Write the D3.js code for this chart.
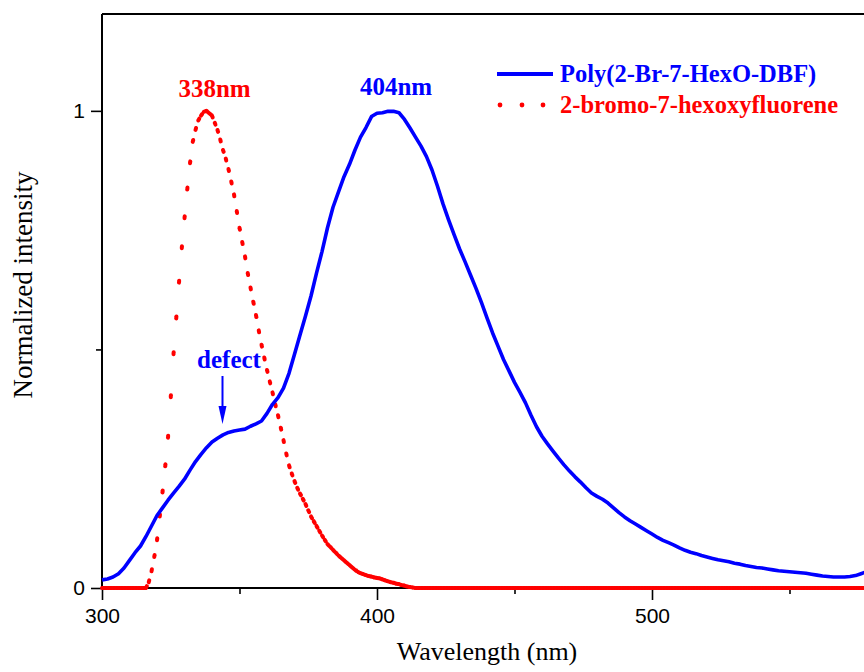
<!DOCTYPE html>
<html>
<head>
<meta charset="utf-8">
<script src="https://cdn.jsdelivr.net/npm/d3@7"></script>
<style>
  body { margin: 0; background: #fff; }
  svg { display: block; }
</style>
</head>
<body>
<svg id="chart"></svg>
<script>
// sampling grids (nm)
const polyWavelengths = d3.range(300, 581, 2)
const monomerWavelengths = d3.range(300, 581, 1)

// Poly(2-Br-7-HexO-DBF), solid blue, every 2 nm
const polyValues = [
  0.017, 0.019, 0.023, 0.030, 0.042, 0.058, 0.074, 0.088, 0.108, 0.130,
  0.152, 0.168, 0.184, 0.199, 0.213, 0.228, 0.247, 0.265, 0.280, 0.294,
  0.306, 0.314, 0.321, 0.326, 0.329, 0.331, 0.333, 0.339, 0.344, 0.350,
  0.366, 0.385, 0.399, 0.419, 0.450, 0.490, 0.530, 0.570, 0.612, 0.660,
  0.705, 0.755, 0.798, 0.830, 0.862, 0.888, 0.918, 0.945, 0.965, 0.988,
  0.995, 0.996, 0.999, 0.999, 0.996, 0.982, 0.964, 0.945, 0.926, 0.904,
  0.876, 0.842, 0.805, 0.772, 0.741, 0.711, 0.684, 0.656, 0.628, 0.598,
  0.566, 0.535, 0.507, 0.479, 0.455, 0.431, 0.410, 0.388, 0.362, 0.338,
  0.318, 0.302, 0.287, 0.272, 0.258, 0.245, 0.233, 0.222, 0.210, 0.199,
  0.192, 0.186, 0.178, 0.168, 0.158, 0.149, 0.141, 0.134, 0.127, 0.120,
  0.113, 0.106, 0.100, 0.095, 0.090, 0.084, 0.079, 0.075, 0.072, 0.068,
  0.065, 0.062, 0.059, 0.057, 0.055, 0.052, 0.050, 0.047, 0.045, 0.043,
  0.042, 0.040, 0.038, 0.036, 0.035, 0.034, 0.033, 0.032, 0.031, 0.029,
  0.027, 0.025, 0.024, 0.023, 0.023, 0.023, 0.024, 0.026, 0.030, 0.034,
  0.040
]

// 2-bromo-7-hexoxyfluorene, red dotted, every 1 nm
const monomerValues = [
  // 300-315
  0, 0, 0, 0, 0, 0, 0, 0, 0, 0, 0, 0, 0, 0, 0, 0,
  // 316-414
  0, 0.012, 0.035, 0.065, 0.100, 0.150, 0.200, 0.255, 0.315, 0.400,
  0.490, 0.565, 0.640, 0.712, 0.775, 0.835, 0.890, 0.935, 0.960, 0.980,
  0.990, 0.998, 1.000, 0.995, 0.990, 0.975, 0.960, 0.940, 0.918, 0.900,
  0.878, 0.852, 0.825, 0.790, 0.755, 0.725, 0.695, 0.660, 0.630, 0.600,
  0.572, 0.540, 0.510, 0.483, 0.457, 0.433, 0.410, 0.385, 0.362, 0.336,
  0.310, 0.282, 0.257, 0.240, 0.224, 0.210, 0.198, 0.187, 0.176, 0.163,
  0.150, 0.140, 0.130, 0.120, 0.110, 0.101, 0.092, 0.086, 0.080, 0.074,
  0.068, 0.063, 0.058, 0.053, 0.048, 0.043, 0.038, 0.034, 0.031, 0.029,
  0.027, 0.025, 0.024, 0.022, 0.021, 0.020, 0.018, 0.016, 0.014, 0.012,
  0.011, 0.009, 0.008, 0.006, 0.005, 0.003, 0.002, 0.001, 0,
  // 415-580
  0, 0, 0, 0, 0, 0, 0, 0, 0, 0, 0, 0, 0, 0, 0, 0, 0, 0, 0, 0,
  0, 0, 0, 0, 0, 0, 0, 0, 0, 0, 0, 0, 0, 0, 0, 0, 0, 0, 0, 0,
  0, 0, 0, 0, 0, 0, 0, 0, 0, 0, 0, 0, 0, 0, 0, 0, 0, 0, 0, 0,
  0, 0, 0, 0, 0, 0, 0, 0, 0, 0, 0, 0, 0, 0, 0, 0, 0, 0, 0, 0,
  0, 0, 0, 0, 0, 0, 0, 0, 0, 0, 0, 0, 0, 0, 0, 0, 0, 0, 0, 0,
  0, 0, 0, 0, 0, 0, 0, 0, 0, 0, 0, 0, 0, 0, 0, 0, 0, 0, 0, 0,
  0, 0, 0, 0, 0, 0, 0, 0, 0, 0, 0, 0, 0, 0, 0, 0, 0, 0, 0, 0,
  0, 0, 0, 0, 0, 0, 0, 0, 0, 0, 0, 0, 0, 0, 0, 0, 0, 0, 0, 0,
  0, 0, 0, 0, 0, 0
]

const xMajorTicks = [300, 400, 500]
const xMinorTicks = [350, 450, 550]
const yMajorTicks = [0, 1]
const yMinorTicks = [0.5]

const seriesNames = ['Poly(2-Br-7-HexO-DBF)', '2-bromo-7-hexoxyfluorene']
const peakLabels = [{ nm: 338, text: '338nm' }, { nm: 404, text: '404nm' }]

const W = 864, H = 672
const margin = { left: 102, top: 14, bottom: 84 }
const plotRight = 872
const blue = '#0000ff', red = '#ff0000'
const serif = '"Liberation Serif", "Times New Roman", serif'
const sans = '"Liberation Sans", Arial, sans-serif'

const svg = d3.select('#chart')
  .attr('width', W)
  .attr('height', H)

const x = d3.scaleLinear().domain([300, 580]).range([margin.left, plotRight])
const y = d3.scaleLinear().domain([0, 1.203]).range([H - margin.bottom, margin.top])
const y0 = y(0)

// axes: major ticks long with labels, minor short without
function styleAxis(g) {
  g.select('.domain').remove()
  g.selectAll('.tick line').attr('stroke', '#000').attr('stroke-width', 1.6)
  g.selectAll('.tick text').attr('fill', '#000').style('font-family', sans).style('font-size', '21px')
}

svg.append('g')
  .attr('transform', 'translate(0,' + y0 + ')')
  .call(d3.axisBottom(x).tickValues(xMajorTicks).tickSize(12).tickPadding(8).tickFormat(d3.format('d')))
  .call(styleAxis)

svg.append('g')
  .attr('transform', 'translate(0,' + y0 + ')')
  .call(d3.axisBottom(x).tickValues(xMinorTicks).tickSize(6).tickFormat(''))
  .call(styleAxis)

svg.append('g')
  .attr('transform', 'translate(' + margin.left + ',0)')
  .call(d3.axisLeft(y).tickValues(yMajorTicks).tickSize(11).tickPadding(6).tickFormat(d3.format('d')))
  .call(styleAxis)

svg.append('g')
  .attr('transform', 'translate(' + margin.left + ',0)')
  .call(d3.axisLeft(y).tickValues(yMinorTicks).tickSize(6).tickFormat(''))
  .call(styleAxis)

// frame
const frame = svg.append('g').attr('stroke', '#000').attr('stroke-width', 2).attr('fill', 'none')
frame.append('line').attr('x1', x(300)).attr('x2', plotRight).attr('y1', y(1.203)).attr('y2', y(1.203))
frame.append('line').attr('x1', x(300)).attr('x2', x(300)).attr('y1', y(1.203)).attr('y2', y0)
frame.append('line').attr('x1', x(300)).attr('x2', plotRight).attr('y1', y0).attr('y2', y0)

// red dotted spectrum: one dot at the start of each segment,
// so closely spaced points merge into a solid line
const monoPts = monomerWavelengths.map((w, i) => [x(w), y(monomerValues[i])])
svg.append('g')
  .selectAll('line')
  .data(d3.pairs(monoPts))
  .join('line')
  .attr('x1', d => d[0][0]).attr('y1', d => d[0][1])
  .attr('x2', d => d[1][0]).attr('y2', d => d[1][1])
  .attr('stroke', red)
  .attr('stroke-width', 4)
  .attr('stroke-linecap', 'round')
  .attr('stroke-dasharray', '2,200')

// blue solid spectrum
const line = d3.line()
  .x((d, i) => x(polyWavelengths[i]))
  .y(d => y(d))

svg.append('path')
  .datum(polyValues)
  .attr('d', line)
  .attr('fill', 'none')
  .attr('stroke', blue)
  .attr('stroke-width', 3.6)
  .attr('stroke-linejoin', 'round')

// axis titles
svg.append('text')
  .attr('x', 487).attr('y', 660)
  .attr('text-anchor', 'middle')
  .style('font-family', serif).style('font-size', '26px')
  .text('Wavelength (nm)')

svg.append('text')
  .attr('transform', 'translate(32,285) rotate(-90)')
  .attr('text-anchor', 'middle')
  .style('font-family', serif).style('font-size', '27px')
  .text('Normalized intensity')

// peak labels
svg.selectAll('.peak')
  .data(peakLabels)
  .join('text')
  .attr('class', 'peak')
  .attr('x', d => x(d.nm) + 8)
  .attr('y', (d, i) => i === 0 ? 97 : 95)
  .attr('text-anchor', 'middle')
  .attr('fill', (d, i) => i === 0 ? red : blue)
  .style('font-family', serif).style('font-size', '25px').style('font-weight', 'bold')
  .text(d => d.text)

// defect annotation
svg.append('text')
  .attr('x', 229).attr('y', 368)
  .attr('text-anchor', 'middle')
  .attr('fill', blue)
  .style('font-family', serif).style('font-size', '25px').style('font-weight', 'bold')
  .text('defect')

svg.append('line')
  .attr('x1', 222.5).attr('x2', 222.5).attr('y1', 376).attr('y2', 410)
  .attr('stroke', blue).attr('stroke-width', 2)
svg.append('path')
  .attr('d', 'M218.5,406 L226.5,406 L222.5,424 Z')
  .attr('fill', blue)

// legend
const legend = svg.append('g')
legend.append('line')
  .attr('x1', 497).attr('x2', 553).attr('y1', 74).attr('y2', 74)
  .attr('stroke', blue).attr('stroke-width', 4)
legend.selectAll('circle')
  .data([500, 522, 543])
  .join('circle')
  .attr('cx', d => d).attr('cy', 105).attr('r', 2.4)
  .attr('fill', red)
legend.selectAll('text')
  .data(seriesNames)
  .join('text')
  .attr('x', 560)
  .attr('y', (d, i) => 82 + i * 31)
  .attr('fill', (d, i) => i === 0 ? blue : red)
  .style('font-family', serif).style('font-size', '24.5px').style('font-weight', 'bold')
  .text(d => d)
</script>
</body>
</html>
